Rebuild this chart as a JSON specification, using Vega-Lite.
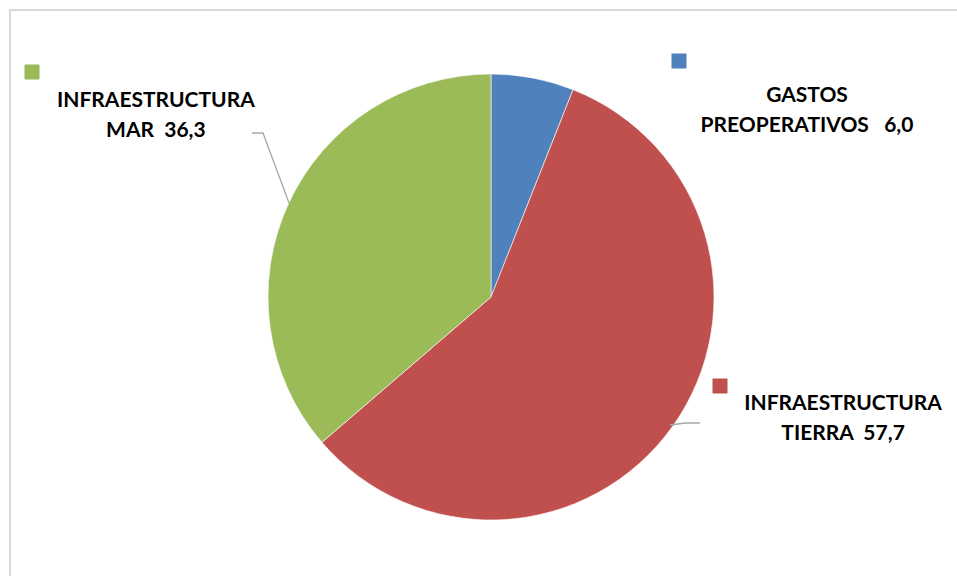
{
  "$schema": "https://vega.github.io/schema/vega-lite/v6.json",
  "width": 962,
  "height": 574,
  "autosize": {"type": "none"},
  "padding": {"left": 10, "top": 10, "right": 0, "bottom": 0},
  "background": "white",
  "config": {"view": {"stroke": null}},
  "data": {
    "values": [
      {"categoria": "GASTOS PREOPERATIVOS", "valor": 6.0, "orden": 1, "etiqueta": "GASTOS\nPREOPERATIVOS\u00a0\u00a0\u00a06,0"},
      {"categoria": "INFRAESTRUCTURA TIERRA", "valor": 57.7, "orden": 2, "etiqueta": "INFRAESTRUCTURA\nTIERRA\u00a0\u00a057,7"},
      {"categoria": "INFRAESTRUCTURA MAR", "valor": 36.3, "orden": 3, "etiqueta": "INFRAESTRUCTURA\nMAR\u00a0\u00a036,3"}
    ]
  },
  "transform": [
    {"stack": "valor", "groupby": [], "sort": [{"field": "orden", "order": "ascending"}], "as": ["ini", "fin"]}
  ],
  "layer": [
    {
      "transform": [{"filter": "datum.orden == 1"}],
      "mark": {"type": "rect", "fill": null, "fillOpacity": 0, "stroke": "#d9d9d9", "strokeWidth": 2},
      "encoding": {}
    },
    {
      "mark": {"type": "arc", "outerRadius": 223, "stroke": "white", "strokeWidth": 0.6},
      "encoding": {
        "theta": {"field": "ini", "type": "quantitative", "scale": {"domain": [0, 100]}},
        "theta2": {"field": "fin"},
        "color": {
          "field": "categoria", "type": "nominal",
          "scale": {"domain": ["GASTOS PREOPERATIVOS", "INFRAESTRUCTURA TIERRA", "INFRAESTRUCTURA MAR"], "range": ["#4F81BD", "#C0504D", "#9BBB59"]},
          "legend": null
        }
      }
    },
    {
      "transform": [{"filter": "datum.orden == 1"}],
      "mark": {"type": "text", "radius": 223, "dx": 316, "dy": 22, "align": "center", "baseline": "middle", "lineBreak": "\n", "lineHeight": 30, "font": "Lato", "fontWeight": "bold", "fontSize": 21, "color": "#000000"},
      "encoding": {
        "theta": {"field": "ini", "type": "quantitative", "scale": {"domain": [0, 100]}},
        "text": {"field": "etiqueta", "type": "nominal"}
      }
    },
    {
      "transform": [{"filter": "datum.orden == 2"}],
      "mark": {"type": "text", "radius": 223, "dx": 270, "dy": 314, "align": "center", "baseline": "middle", "lineBreak": "\n", "lineHeight": 30, "font": "Lato", "fontWeight": "bold", "fontSize": 21, "color": "#000000"},
      "encoding": {
        "theta": {"field": "ini", "type": "quantitative", "scale": {"domain": [0, 100]}},
        "text": {"field": "etiqueta", "type": "nominal"}
      }
    },
    {
      "transform": [{"filter": "datum.orden == 3"}],
      "mark": {"type": "text", "radius": 223, "dx": -166, "dy": -341, "align": "center", "baseline": "middle", "lineBreak": "\n", "lineHeight": 30, "font": "Lato", "fontWeight": "bold", "fontSize": 21, "color": "#000000"},
      "encoding": {
        "theta": {"field": "ini", "type": "quantitative", "scale": {"domain": [0, 100]}},
        "text": {"field": "etiqueta", "type": "nominal"}
      }
    },
    {
      "transform": [{"filter": "datum.orden == 1"}],
      "mark": {"type": "point", "shape": "square", "filled": true, "opacity": 1, "size": 225, "xOffset": 188, "yOffset": -236},
      "encoding": {"color": {"field": "categoria", "type": "nominal", "legend": null}}
    },
    {
      "transform": [{"filter": "datum.orden == 2"}],
      "mark": {"type": "point", "shape": "square", "filled": true, "opacity": 1, "size": 225, "xOffset": 229, "yOffset": 89},
      "encoding": {"color": {"field": "categoria", "type": "nominal", "legend": null}}
    },
    {
      "transform": [{"filter": "datum.orden == 3"}],
      "mark": {"type": "point", "shape": "square", "filled": true, "opacity": 1, "size": 225, "xOffset": -459, "yOffset": -225},
      "encoding": {"color": {"field": "categoria", "type": "nominal", "legend": null}}
    },
    {
      "transform": [{"filter": "datum.orden == 3"}],
      "mark": {"type": "point", "shape": "M-202,-94L-228,-164L-239,-164", "filled": false, "opacity": 1, "size": 4, "stroke": "#a6a6a6", "strokeWidth": 1.3},
      "encoding": {}
    },
    {
      "transform": [{"filter": "datum.orden == 2"}],
      "mark": {"type": "point", "shape": "M179,128L194,126L209,126", "filled": false, "opacity": 1, "size": 4, "stroke": "#a6a6a6", "strokeWidth": 1.3},
      "encoding": {}
    }
  ]
}
